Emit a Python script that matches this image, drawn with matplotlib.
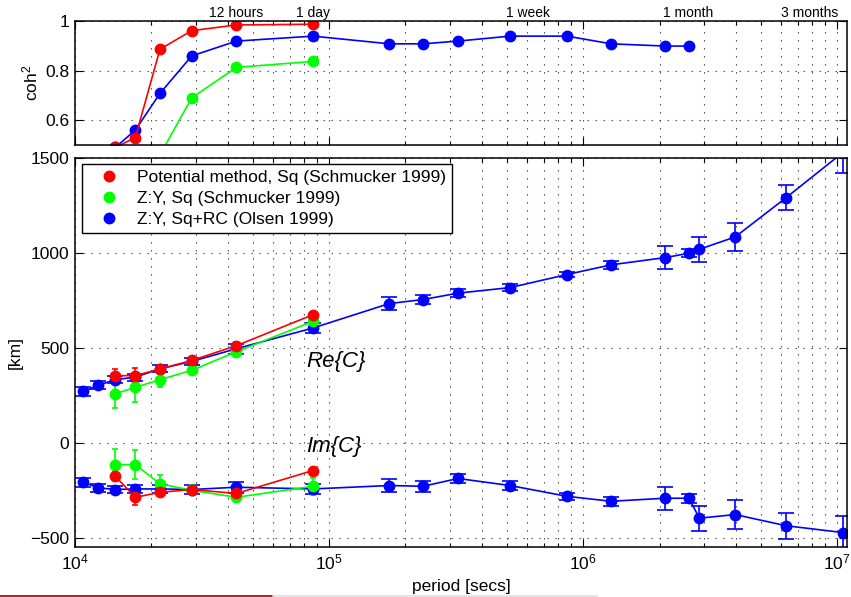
import matplotlib
matplotlib.use("Agg")
import matplotlib.pyplot as plt
from matplotlib.lines import Line2D
from matplotlib.ticker import FuncFormatter, LogLocator, NullFormatter

plt.rcParams['font.family'] = ['Liberation Sans', 'DejaVu Sans']
plt.rcParams['mathtext.fontset'] = 'custom'
plt.rcParams['mathtext.rm'] = 'Liberation Sans'
plt.rcParams['mathtext.it'] = 'Liberation Sans:italic'

# periods [s]
per_schm = [14400, 17280, 21600, 28800, 43200, 86400]
per_olsen = [10800, 12343, 14400, 17280, 21600, 28800, 43200, 86400, 172800,
             234400, 322000, 516000, 865000, 1289000, 2100000, 2610000,
             2870000, 3970000, 6300000, 10560000]

# Re{C}, Im{C} [km]
re_pot = [353, 353, 388, 433, 511, 674]
re_pot_err = [33, 39, 18, 18, 18, 15]
im_pot = [-177, -288, -262, -247, -268, -147]
im_pot_err = [20, 40, 15, 15, 15, 10]

re_zy = [258, 291, 332, 381, 479, 639]
re_zy_err = [75, 75, 40, 21, 26, 21]
im_zy = [-116, -116, -217, -251, -288, -230]
im_zy_err = [84, 77, 47, 26, 26, 44]

re_olsen = [270, 302, 332, 345, 389, 428, 495, 604, 733, 754, 788, 817, 886,
            937, 975, 998, 1019, 1084, 1291, 1530]
re_olsen_err = [24, 21, 18, 18, 18, 19, 26, 25, 32, 25, 21, 20, 15, 21, 60,
                22, 66, 74, 67, 110]
im_olsen = [-209, -238, -247, -244, -244, -247, -235, -244, -226, -230, -189,
            -226, -283, -309, -293, -293, -398, -379, -438, -474]
im_olsen_err = [24, 20, 20, 20, 20, 22, 28, 25, 32, 28, 22, 24, 18, 24, 61,
                23, 66, 75, 68, 88]

# squared coherence
coh_pot = [0.49, 0.53, 0.886, 0.961, 0.984, 0.987]
per_coh_zy = [21600, 28800, 43200, 86400]
coh_zy = [0.46, 0.69, 0.813, 0.837]
per_coh_olsen = [14400, 17280, 21600, 28800, 43200, 86400, 172800, 234400,
                 322000, 516000, 865000, 1289000, 2100000, 2610000]
coh_olsen = [0.49, 0.56, 0.708, 0.859, 0.919, 0.939, 0.908, 0.908, 0.919,
             0.939, 0.939, 0.908, 0.899, 0.899]

top_periods = [43200, 86400, 604800, 2592000, 7776000]
top_labels = ['12 hours', '1 day', '1 week', '1 month', '3 months']

legend_labels = ['Potential method, Sq (Schmucker 1999)',
                 'Z:Y, Sq (Schmucker 1999)',
                 'Z:Y, Sq+RC (Olsen 1999)']

W, H = 851, 597
fig = plt.figure(figsize=(W / 100, H / 100), dpi=100)
ax_coh = fig.add_axes([75 / W, 1 - 145 / H, 772 / W, 124 / H])
ax = fig.add_axes([75 / W, 1 - 547 / H, 772 / W, 389 / H])

fs = 12.5
grid_style = dict(linestyle=(0, (1.2, 6)), color='0.25', lw=0.8)


def style(a):
    a.set_xscale('log')
    a.set_xlim(1e4, 1.094e7)
    a.xaxis.set_minor_locator(LogLocator(base=10, subs=range(2, 10), numticks=100))
    a.xaxis.set_minor_formatter(NullFormatter())
    a.tick_params(which='both', direction='in', top=True, right=True,
                  labelsize=fs, pad=4, width=0.8)
    a.tick_params(which='major', length=6)
    a.tick_params(which='minor', length=3)
    a.set_axisbelow(True)
    a.grid(True, which='both', axis='x', **grid_style)
    a.grid(True, which='major', axis='y', **grid_style)
    for s in a.spines.values():
        s.set_linewidth(1.1)


def ebar(a, x, y, e, c, cap):
    a.errorbar(x, y, yerr=e, color=c, marker='o', ms=7.5, lw=1.2,
               elinewidth=1.2, capsize=cap, capthick=1.2)


# coherence panel
style(ax_coh)
ax_coh.plot(per_coh_olsen, coh_olsen, 'o-', color='b', ms=7.5, lw=1.2)
ax_coh.plot(per_coh_zy, coh_zy, 'o-', color=(0, 1, 0), ms=7.5, lw=1.2)
ax_coh.plot(per_schm, coh_pot, 'o-', color='r', ms=7.5, lw=1.2)
ax_coh.set_ylim(0.5, 1)
ax_coh.set_yticks([0.6, 0.8, 1.0])
ax_coh.yaxis.set_major_formatter(FuncFormatter(lambda v, p: '%g' % v))
ax_coh.tick_params(labelbottom=False)
ax_coh.set_ylabel('coh$^2$', fontsize=fs)
ax_coh.yaxis.set_label_coords(-0.045, 0.5)
for p, lab in zip(top_periods, top_labels):
    ax_coh.text(p, 1.035, lab, transform=ax_coh.get_xaxis_transform(),
                ha='center', va='baseline', fontsize=10)

# response panel
style(ax)
ebar(ax, per_olsen, re_olsen, re_olsen_err, 'b', 6)
ebar(ax, per_olsen, im_olsen, im_olsen_err, 'b', 6)
ebar(ax, per_schm, re_zy, re_zy_err, (0, 1, 0), 2)
ebar(ax, per_schm, im_zy, im_zy_err, (0, 1, 0), 2)
ebar(ax, per_schm, re_pot, re_pot_err, 'r', 2)
ebar(ax, per_schm, im_pot, im_pot_err, 'r', 2)
ax.set_ylim(-550, 1500)
ax.set_yticks([-500, 0, 500, 1000, 1500])
ax.set_ylabel('[km]', fontsize=fs)
ax.yaxis.set_label_coords(-0.068, 0.5)
ax.set_xlabel('period [secs]', fontsize=fs)
ax.xaxis.set_label_coords(0.5, -0.083)

ax.text(8.11e4, 430, 'Re{C}', style='italic', fontsize=16, ha='left', va='center')
ax.text(8.11e4, -22, 'Im{C}', style='italic', fontsize=16, ha='left', va='center')

handles = [Line2D([], [], color=c, marker='o', ls='none', ms=7.5)
           for c in ['r', (0, 1, 0), 'b']]
leg = ax.legend(handles, legend_labels, loc='upper left',
                bbox_to_anchor=(7 / 772, 1 - 6 / 389), borderaxespad=0,
                fancybox=False, edgecolor='k', framealpha=1, fontsize=fs,
                handlelength=2.4, handletextpad=0.4, borderpad=0.35,
                labelspacing=0.33)
leg.get_frame().set_linewidth(1.0)

# thin strip at the very bottom of the picture
fig.add_artist(Line2D([0, 273 / W], [0.8 / H, 0.8 / H], color='#a00000', lw=1.2))
fig.add_artist(Line2D([273 / W, 597 / W], [0.8 / H, 0.8 / H], color='#e0e0e0', lw=1.2))

fig.savefig('out.png', dpi=100)
